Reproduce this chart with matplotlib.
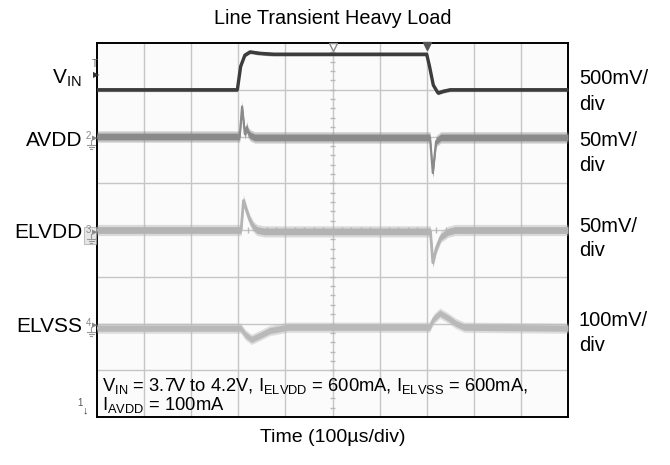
import numpy as np
import matplotlib.pyplot as plt
from matplotlib.lines import Line2D

plt.rcParams['font.family'] = ['Liberation Sans', 'DejaVu Sans']
plt.rcParams['mathtext.fontset'] = 'custom'
plt.rcParams['mathtext.rm'] = 'Liberation Sans'
plt.rcParams['mathtext.it'] = 'Liberation Sans:italic'

# scope traces, time and level in divisions
vin_t = [0, 2.98, 3.05, 3.14, 3.25, 3.45, 3.75, 7.0, 7.06, 7.14, 7.24, 7.36, 7.5, 10]
vin_v = [7.0, 7.0, 7.5, 7.74, 7.81, 7.78, 7.76, 7.76, 7.5, 7.1, 6.93, 6.97, 7.0, 7.0]

avdd_t = [0, 3.03, 3.08, 3.14, 3.18, 3.21, 3.26, 3.35, 7.07, 7.13, 7.2, 7.3, 10]
avdd_v = [6.0, 6.0, 6.64, 6.05, 6.2, 6.08, 6.02, 5.98, 5.98, 5.22, 5.9, 5.98, 5.98]

elvdd_t = [0, 3.06, 3.11, 3.18, 3.25, 3.32, 3.4, 3.55, 7.08, 7.13, 7.2, 7.3, 7.45, 7.6, 10]
elvdd_v = [4.0, 4.0, 4.63, 4.4, 4.2, 4.07, 4.0, 3.97, 3.97, 3.3, 3.6, 3.85, 3.96, 4.0, 4.0]

elvss_t = [0, 3.05, 3.15, 3.28, 3.45, 3.67, 4.05, 7.06, 7.15, 7.28, 7.45, 7.62, 7.8, 10]
elvss_v = [1.9, 1.9, 1.76, 1.66, 1.74, 1.85, 1.92, 1.92, 2.1, 2.22, 2.12, 2.0, 1.92, 1.9]

left_labels = ['V$_{\\mathrm{IN}}$', 'AVDD', 'ELVDD', 'ELVSS']
left_y = [78, 140, 232, 326]
scale_top = ['500mV/', '50mV/', '50mV/', '100mV/']
scale_y = [79, 140, 226, 320]
note1 = ('V$_{\\mathrm{IN}}$ = 3.7V to 4.2V, I$_{\\mathrm{ELVDD}}$ = 600mA, '
         'I$_{\\mathrm{ELVSS}}$ = 600mA,')
note2 = 'I$_{\\mathrm{AVDD}}$ = 100mA'

W, H = 670, 465


def px(x, y):
    return x / W, 1 - y / H


fig = plt.figure(figsize=(W / 100, H / 100), dpi=100)
ax = fig.add_axes([97 / W, 1 - 417 / H, 471 / W, 374 / H])
ax.set_xlim(0, 10)
ax.set_ylim(0, 8)
ax.set_facecolor('#fbfbfb')
ax.set_xticks([])
ax.set_yticks([])
for s in ax.spines.values():
    s.set_color('black')
    s.set_linewidth(1.4)

for x in range(1, 10):
    ax.axvline(x, color='#c6c6c6', lw=1, zorder=1)
for y in range(1, 8):
    ax.axhline(y, color='#c6c6c6', lw=1, zorder=1)
ax.hlines(np.arange(0.2, 8, 0.2), 4.94, 5.06, color='#b8b8b8', lw=1, zorder=1)
ax.vlines(np.arange(0.2, 10, 0.2), 3.93, 4.07, color='#b8b8b8', lw=1, zorder=1)


def trace(t, v, hw, color, lw):
    t = np.array(t)
    v = np.array(v)
    ax.fill_between(t, v - hw, v + hw, color=color, alpha=0.45, lw=0, zorder=3)
    ax.fill_between(t, v - hw * 0.6, v + hw * 0.6, color=color, lw=0, zorder=3)
    ax.plot(t, v, color=color, lw=lw, zorder=4, solid_joinstyle='round')


trace(elvss_t, elvss_v, 0.11, '#b9b9b9', 2)
trace(elvdd_t, elvdd_v, 0.12, '#b3b3b3', 2)
trace(avdd_t, avdd_v, 0.12, '#8a8a8a', 1.6)
trace(vin_t, vin_v, 0.04, '#3c3c3c', 2.4)

# scope markers
ax.plot([5], [7.92], marker='v', ms=6, mfc='white', mec='#888888', clip_on=False, zorder=5)
ax.plot([7.0], [7.93], marker='v', ms=6, color='#555555', clip_on=False, zorder=5)
fig.text(*px(95, 64), 'T', fontsize=7, color='#666666', ha='center', va='center')
fig.text(*px(96, 76), '\u25b6', fontsize=6, color='#333333', ha='center', va='center')


def ground(x, y):
    c = '#999999'
    fig.add_artist(Line2D([x / W, x / W], [1 - y / H, 1 - (y + 5) / H], color=c, lw=0.8))
    for i, hw in enumerate([4, 2.5, 1]):
        yy = y + 5 + i * 2
        fig.add_artist(Line2D([(x - hw) / W, (x + hw) / W], [1 - yy / H, 1 - yy / H], color=c, lw=0.8))


fig.patches.append(plt.Rectangle(px(84, 244), 12 / W, 17 / H, transform=fig.transFigure,
                                 fc='#dddddd', ec='#aaaaaa', lw=0.8, alpha=0.7))
for num, yy in zip(['2', '3', '4'], [139, 233, 326]):
    fig.text(*px(88, yy - 3), num, fontsize=7, color='#888888', ha='center', va='center')
    fig.text(*px(95, yy), '\u25b6', fontsize=5, color='#888888', ha='center', va='center')
    ground(91, yy + 1)
fig.text(*px(80, 403), '1', fontsize=7, color='#555555', ha='center', va='center')
fig.text(*px(85, 410), '\u2193', fontsize=8, color='#333333', ha='center', va='center')

for lab, yy in zip(left_labels, left_y):
    fig.text(*px(82, yy), lab, fontsize=15, ha='right', va='center')
for lab, yy in zip(scale_top, scale_y):
    fig.text(*px(579, yy), lab, fontsize=14.5, ha='left', va='center')
    fig.text(*px(579, yy + 25), 'div', fontsize=14.5, ha='left', va='center')

fig.text(*px(333, 18), 'Line Transient Heavy Load', fontsize=14.3, ha='center', va='center')
fig.text(*px(333, 437), 'Time (100\u00b5s/div)', fontsize=14, ha='center', va='center')
fig.text(*px(102, 386), note1, fontsize=13.2, ha='left', va='center')
fig.text(*px(102, 405), note2, fontsize=13.2, ha='left', va='center')

fig.savefig('out.png', dpi=100)
